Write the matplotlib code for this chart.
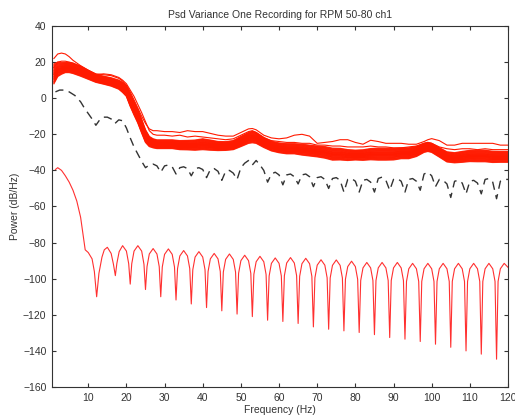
import matplotlib
matplotlib.use("Agg")
import matplotlib.pyplot as plt
import numpy as np

plt.rcParams['font.family'] = ['Liberation Sans', 'DejaVu Sans']

# ---------------- data ----------------
bundle_freq = [1, 2, 3, 4, 5, 6, 8, 10, 12, 14, 16, 18, 19, 20, 21, 22, 23, 24, 25, 26,
               27, 28, 30, 32, 34, 36, 38, 40, 42, 44, 46, 48, 50, 52, 53, 54, 56, 58, 60, 62,
               64, 66, 68, 70, 72, 74, 76, 78, 80, 82, 84, 86, 88, 90, 92, 94, 96, 98, 99, 100,
               102, 104, 106, 108, 110, 112, 114, 116, 118, 120]
bundle_center = [13.5, 16, 16.5, 17, 17, 16.5, 15, 13, 11, 10, 9, 7.5, 6, 4, -1, -5.5, -10, -15.5, -21, -24,
                 -25, -25.5, -25.5, -25.5, -26, -26, -26, -25.5, -26, -26.5, -26.5, -26, -24, -22, -21.5, -22, -24.5, -26.5, -27.5, -28,
                 -28, -28.5, -29, -29.5, -30, -31, -31, -31.5, -31.5, -31.5, -31, -31, -31, -31, -30.5, -30.5, -29.5, -27.5, -27, -27.5,
                 -30, -32.5, -33, -32.5, -32, -32, -32, -32.5, -32.5, -32.5]
bundle_halfwidth = [5.5, 4, 3.2, 2.8, 2.8, 2.8, 2.8, 2.5, 2.2, 2.2, 2.3, 2.5, 2.8, 3, 3.5, 3.8, 3.8, 3.8, 3.5, 2.8,
                    2.5, 2.4, 2.4, 2.4, 2.5, 2.6, 2.8, 3, 2.8, 2.5, 2.4, 2.5, 2.8, 3, 3.2, 3, 2.8, 2.7, 2.7, 2.8,
                    2.8, 3, 3, 3, 3.2, 3.3, 3.2, 3, 2.7, 2.9, 3.1, 3.3, 3.3, 3.2, 3, 3, 2.8, 2.5, 2.5, 2.5,
                    2.6, 2.8, 2.8, 3, 3.1, 3.2, 3.2, 3.1, 3, 3]
bundle_offsets = [-1.0, -0.9, -0.8, -0.72, -0.6, -0.52, -0.45, -0.35, -0.28, -0.2, -0.1, -0.05,
                  0.0, 0.08, 0.15, 0.25, 0.32, 0.4, 0.5, 0.6, 0.7, 0.8, 0.9, 1.0]

upper1 = [22, 24.5, 25, 24.5, 23, 21, 18, 15.5, 13.5, 13, 12.5, 11, 9.5, 7, 3.5, -1, -5.5, -10, -14, -17,
          -18, -18, -18.5, -18.5, -19, -18, -18.5, -18.5, -19.5, -20.5, -21, -21, -19, -17, -16.8, -17.5, -20.5, -22, -22.5, -22,
          -20.5, -20, -21, -25, -24.5, -24, -23, -23, -24.5, -25.5, -23.3, -24, -25, -25, -25, -25.5, -25.5, -24, -23, -22.4,
          -23.5, -26, -26, -25, -25, -25, -25, -25, -26, -26]
upper2 = [17, 20, 20.5, 20.5, 20, 19.5, 17.5, 15, 13, 13.5, 13, 11.5, 10, 8, 4.5, 1, -3.5, -8, -13, -18,
          -20, -20.5, -20.5, -21, -20.5, -21.5, -21, -21.5, -22, -22.5, -23, -22.5, -20.5, -18.5, -18, -19, -22, -23.5, -24, -24.5,
          -24.5, -25, -25, -26, -26, -26.5, -26.5, -27, -27, -27, -26.5, -27, -27, -27.5, -27.5, -27, -26.5, -25, -24.5, -25,
          -27, -28, -28.5, -28, -28, -28.5, -28, -28.5, -28.5, -28.5]

mean_freq = [1.4, 2.5, 4, 5, 6.5, 8, 9, 10, 11, 12, 13, 14, 15, 16, 17, 18, 19, 20, 21, 22,
             23, 24, 25, 26, 27, 28, 29, 30, 31, 32, 33, 34, 35, 36, 37, 38, 39, 40, 41, 42,
             43, 44, 45, 46, 47, 48, 49, 50, 51, 52, 53, 54, 55, 56, 57, 58, 59, 60, 61, 62,
             63, 64, 65, 66, 67, 68, 69, 70, 71, 72, 73, 74, 75, 76, 77, 78, 79, 80, 81, 82,
             83, 84, 85, 86, 87, 88, 89, 90, 91, 92, 93, 94, 95, 96, 97, 98, 99, 100, 101, 102,
             103, 104, 105, 106, 107, 108, 109, 110, 111, 112, 113, 114, 115, 116, 117, 118, 119, 120]
mean_vals = [3.5, 4.5, 4.5, 3.5, 1.5, -2, -5.5, -8.5, -11.5, -15, -12, -10.5, -10.5, -11.5, -14, -12, -12.5, -16.5, -22, -27,
             -31, -35, -38.5, -37, -36.5, -37.5, -41, -37.5, -37, -38, -42, -38.5, -38, -39, -43, -39, -38.5, -39.5, -44, -39.5,
             -39, -40.5, -45.5, -40.5, -40, -41.5, -45, -38.5, -36, -34.5, -37, -34.5, -37, -40, -46.5, -42, -41, -42.5, -48, -42.5,
             -42, -43.5, -47.5, -42.5, -42, -43.5, -49, -44, -43.5, -45, -50, -44.5, -44, -45.5, -52, -45, -44.5, -46, -52, -45.5,
             -45, -46.5, -52, -44.5, -43.7, -45.5, -51, -45, -44.5, -46, -52, -45, -44.5, -46, -51, -42, -41, -43, -49, -45,
             -45.5, -47.5, -55, -46, -45.5, -47, -53, -46, -45.5, -47, -53, -45, -44.5, -46.5, -55.7, -46, -45, -45]

low_freq = [1.4, 2, 3, 4, 5, 6, 7, 8, 8.6, 9.2, 10, 11, 11.6, 12.2, 12.8, 13.6, 14.2,
            15, 16, 16.6, 17.1, 17.5, 18.1,
            19, 20, 20.6, 21, 21.4, 22,
            23, 24, 24.6, 25, 25.4, 26,
            27, 28, 28.6, 29, 29.4, 30,
            31, 32, 32.6, 33, 33.4, 34,
            35, 36, 36.6, 37, 37.4, 38,
            39, 40, 40.6, 41, 41.4, 42,
            43, 44, 44.6, 45, 45.4, 46,
            47, 48, 48.6, 49, 49.4, 50,
            51, 52, 52.6, 53, 53.4, 54,
            55, 56, 56.6, 57, 57.4, 58,
            59, 60, 60.6, 61, 61.4, 62,
            63, 64, 64.6, 65, 65.4, 66,
            67, 68, 68.6, 69, 69.4, 70,
            71, 72, 72.6, 73, 73.4, 74,
            75, 76, 76.6, 77, 77.4, 78,
            79, 80, 80.6, 81, 81.4, 82,
            83, 84, 84.6, 85, 85.4, 86,
            87, 88, 88.6, 89, 89.4, 90,
            91, 92, 92.6, 93, 93.4, 94,
            95, 96, 96.6, 97, 97.4, 98,
            99, 100, 100.6, 101, 101.4, 102,
            103, 104, 104.6, 105, 105.4, 106,
            107, 108, 108.6, 109, 109.4, 110,
            111, 112, 112.6, 113, 113.4, 114,
            115, 116, 116.6, 117, 117.4, 118,
            119, 120]
low_vals = [-39.5, -38.5, -40, -43, -46.5, -51, -57, -66, -75, -84, -85.5, -89, -96, -110, -97, -88, -84,
            -82.6, -86, -92, -98.3, -91.5, -85,
            -81.7, -84.7, -91.7, -103, -91.7, -84.7,
            -81.7, -84.7, -92, -106, -93.3, -86.3,
            -83.3, -86.3, -93.3, -110, -93.5, -86.5,
            -83.5, -86.5, -93.5, -111.8, -94.4, -87.4,
            -84.4, -87.4, -94.4, -114, -95, -88,
            -85, -88, -95, -116, -96, -89,
            -86, -89, -96, -117.8, -96.3, -89.3,
            -86.3, -89.3, -96.3, -119.6, -97, -90,
            -87, -90, -97, -121, -97.6, -90.6,
            -87.6, -90.6, -97.6, -123, -98.5, -91.5,
            -88.5, -91.5, -98.5, -123.7, -98.3, -91.3,
            -88.3, -91.3, -98.3, -124.8, -98.7, -91.7,
            -88.7, -91.7, -98.7, -126.7, -99.5, -92.5,
            -89.5, -92.5, -99.5, -128, -99.6, -92.6,
            -89.6, -92.6, -99.6, -128.9, -100.3, -93.3,
            -90.3, -93.3, -100.3, -129.8, -101, -94,
            -91, -94, -101, -131, -101, -94,
            -91, -94, -101, -132.6, -101, -94,
            -91, -94, -101, -133.5, -101.5, -94.5,
            -91.5, -94.5, -101.5, -134.8, -101.5, -94.5,
            -91.5, -94.5, -101.5, -136.3, -101.5, -94.5,
            -91.5, -94.5, -101.5, -138, -101.5, -94.5,
            -91.5, -94.5, -101.5, -140, -101.5, -94.5,
            -91.5, -94.5, -101.5, -141.8, -101.5, -94.5,
            -91.5, -94.5, -101.5, -144.6, -101.5, -94.5,
            -91.5, -93.7]

x_ticks = [10, 20, 30, 40, 50, 60, 70, 80, 90, 100, 110, 120]
y_ticks = [-160, -140, -120, -100, -80, -60, -40, -20, 0, 20, 40]

title = "Psd Variance One Recording for RPM 50-80 ch1"
xlabel = "Frequency (Hz)"
ylabel = "Power (dB/Hz)"

# ---------------- plot ----------------
fig = plt.figure(figsize=(5.15, 4.19), dpi=100)
ax = fig.add_axes([52/515, 1 - 387/419, (508-52)/515, (387-26)/419])

red = '#ff1a00'
bf = np.array(bundle_freq)
bc = np.array(bundle_center)
bh = np.array(bundle_halfwidth)
for off in bundle_offsets:
    ax.plot(bf, bc + off * bh, color=red, lw=0.9, alpha=0.9)
ax.plot(bf, upper1, color=red, lw=0.8)
ax.plot(bf, upper2, color=red, lw=0.8)

ax.plot(mean_freq, mean_vals, color='#333333', lw=1.0, linestyle=(0, (6, 4)))
ax.plot(low_freq, low_vals, color='#ff3030', lw=0.8)

ax.set_xlim(0.5, 120)
ax.set_ylim(-160, 40)
ax.set_xticks(x_ticks)
ax.set_yticks(y_ticks)
ax.tick_params(direction='in', top=True, right=True, length=3, width=0.8,
               labelsize=7.5, colors='#333333', pad=4)
for s in ax.spines.values():
    s.set_color('#333333')
    s.set_linewidth(0.8)

ax.set_title(title, fontsize=7.5, color='#333333', pad=6)
ax.set_xlabel(xlabel, fontsize=7.5, color='#333333', labelpad=2)
ax.set_ylabel(ylabel, fontsize=7.5, color='#333333', labelpad=2)

fig.savefig("out.png", dpi=100)
